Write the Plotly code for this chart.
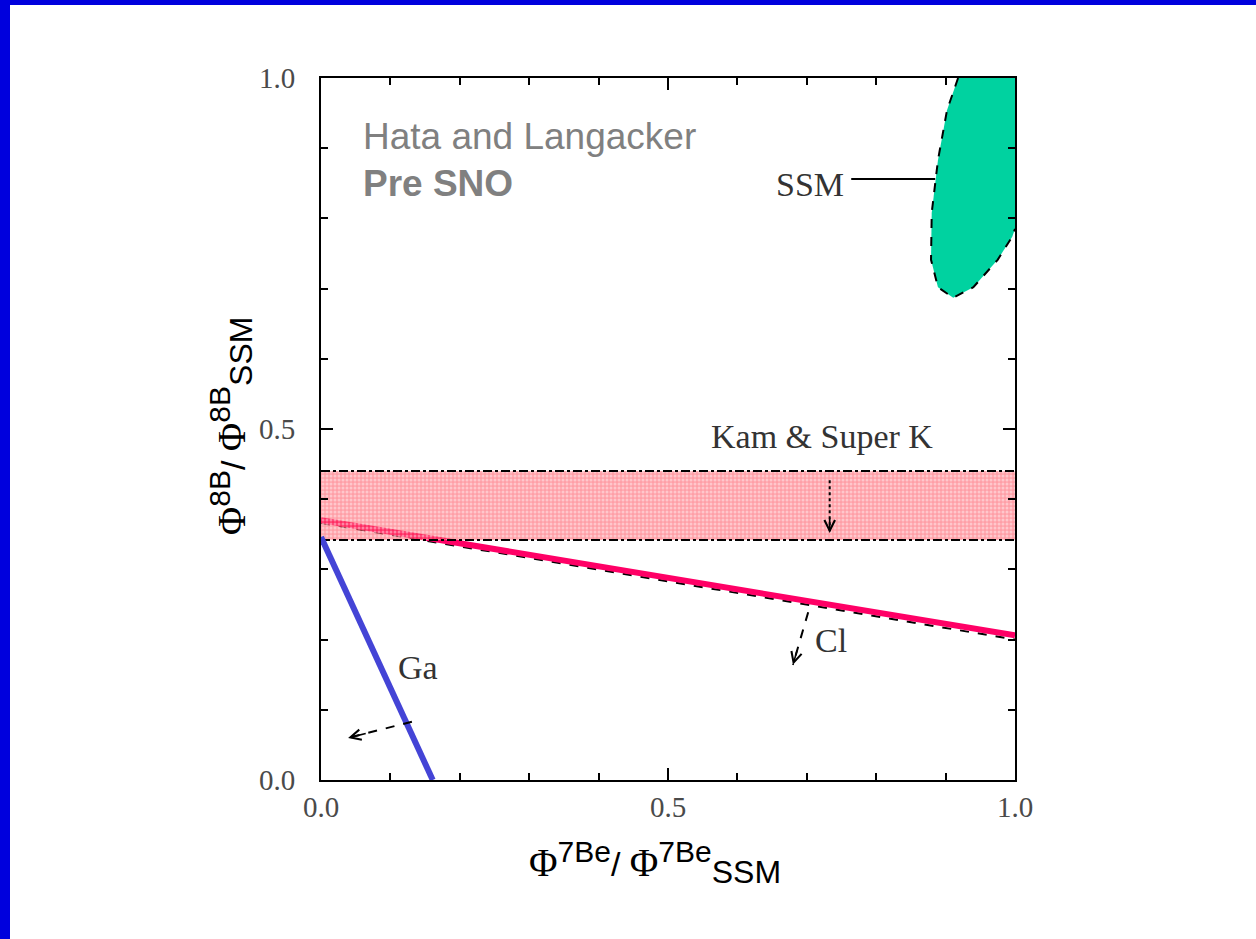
import plotly.graph_objects as go

# ---- data ----
ga_x = [0.0, 0.161]
ga_y = [0.346, 0.0]

cl_x = [0.0, 1.0]
cl_y = [0.370, 0.206]
cl_dash_y = [0.366, 0.200]

kam_x = [0.0, 1.0]
kam_low = [0.342, 0.342]
kam_high = [0.440, 0.440]

ssm_x = [0.918, 0.902, 0.889, 0.880, 0.879, 0.889, 0.911, 0.940, 0.975, 0.996, 1.0, 1.0]
ssm_y = [1.0, 0.954, 0.883, 0.808, 0.741, 0.702, 0.687, 0.702, 0.741, 0.774, 0.785, 1.0]

ssm_ptr_x = [0.764, 0.885]
ssm_ptr_y = [0.856, 0.856]

ga_arrow_x = [0.131, 0.039]
ga_arrow_y = [0.083, 0.060]
cl_arrow_x = [0.702, 0.680]
cl_arrow_y = [0.239, 0.164]
kam_arrow_x = [0.733, 0.733]
kam_arrow_y = [0.427, 0.352]

tick_vals = [0.0, 0.5, 1.0]
tick_text = ["0.0", "0.5", "1.0"]

SERIF = "Liberation Serif, Times New Roman, serif"
SANS = "Liberation Sans, Arial, sans-serif"

fig = go.Figure()

# Cl line (drawn first so the band texture overlays it)
fig.add_trace(go.Scatter(x=cl_x, y=cl_dash_y, mode="lines",
                         line=dict(color="black", width=2, dash="dash"),
                         hoverinfo="skip", showlegend=False))
fig.add_trace(go.Scatter(x=cl_x, y=cl_y, mode="lines",
                         line=dict(color="#ff0066", width=6),
                         hoverinfo="skip", showlegend=False))

# Kam & Super K band
fig.add_trace(go.Scatter(x=kam_x, y=kam_low, mode="lines",
                         line=dict(color="black", width=2, dash="dashdot"),
                         hoverinfo="skip", showlegend=False))
fig.add_trace(go.Scatter(x=kam_x, y=kam_high, mode="lines", fill="tonexty",
                         fillcolor="rgba(255,110,110,0.55)",
                         fillpattern=dict(shape=".", fgcolor="rgba(255,255,255,0.85)",
                                          bgcolor="rgba(255,80,95,0.55)",
                                          size=4, solidity=0.45),
                         line=dict(color="black", width=2, dash="dashdot"),
                         hoverinfo="skip", showlegend=False))

# Ga line
fig.add_trace(go.Scatter(x=ga_x, y=ga_y, mode="lines",
                         line=dict(color="#4444d6", width=6),
                         hoverinfo="skip", showlegend=False))

# SSM region
fig.add_trace(go.Scatter(x=ssm_x, y=ssm_y, mode="lines", fill="toself",
                         fillcolor="#00d2a0", line=dict(width=0),
                         hoverinfo="skip", showlegend=False))
fig.add_trace(go.Scatter(x=ssm_x[:-1], y=ssm_y[:-1], mode="lines",
                         line=dict(color="black", width=2, dash="dash"),
                         hoverinfo="skip", showlegend=False))
fig.add_trace(go.Scatter(x=ssm_ptr_x, y=ssm_ptr_y, mode="lines",
                         line=dict(color="black", width=2),
                         hoverinfo="skip", showlegend=False))

# dashed / dotted arrow shafts with V heads
for ax_, ay_, dash in [(ga_arrow_x, ga_arrow_y, "dash"),
                       (cl_arrow_x, cl_arrow_y, "dash"),
                       (kam_arrow_x, kam_arrow_y, "dot")]:
    fig.add_trace(go.Scatter(x=ax_, y=ay_, mode="lines",
                             line=dict(color="black", width=2, dash=dash),
                             hoverinfo="skip", showlegend=False))
    hx, hy = ax_[-1], ay_[-1]
    tx = hx + 0.3 * (ax_[0] - hx)
    ty = hy + 0.3 * (ay_[0] - hy)
    fig.add_annotation(x=hx, y=hy, ax=tx, ay=ty, axref="x", ayref="y",
                       xref="x", yref="y", text="", showarrow=True,
                       arrowhead=5, arrowsize=1.3, arrowwidth=1.6, arrowcolor="black",
                       standoff=0, startstandoff=0)

# text labels
lab_font = dict(family=SERIF, size=34, color="#333333")
fig.add_annotation(x=0.722, y=0.49, text="Kam &amp; Super K", showarrow=False, font=lab_font)
fig.add_annotation(x=0.705, y=0.848, text="SSM", showarrow=False, font=lab_font)
fig.add_annotation(x=0.140, y=0.160, text="Ga", showarrow=False, font=lab_font)
fig.add_annotation(x=0.735, y=0.199, text="Cl", showarrow=False, font=lab_font)

fig.add_annotation(x=0.057, y=0.917, xanchor="left", text="Hata and Langacker",
                   showarrow=False, font=dict(family=SANS, size=37, color="#808080"))
fig.add_annotation(x=0.057, y=0.85, xanchor="left", text="<b>Pre SNO</b>",
                   showarrow=False, font=dict(family=SANS, size=37, color="#808080"))

phi = '<span style="font-family:Liberation Serif;font-size:39px">Φ</span>'
sup = lambda s: '<sup><span style="font-size:30px">' + s + '</span></sup>'
sub = lambda s: '<sub><span style="font-size:32px">' + s + '</span></sub>'
xtitle = phi + sup('7Be') + '/ ' + phi + sup('7Be') + sub('SSM')
ytitle = phi + sup('8B') + '/ ' + phi + sup('8B') + sub('SSM')
title_font = dict(family=SANS, size=34, color="black")
fig.add_annotation(xref="paper", yref="paper", x=0.481, y=-0.118, text=xtitle,
                   showarrow=False, font=title_font, xanchor="center", yanchor="middle")
fig.add_annotation(xref="paper", yref="paper", x=-0.13, y=0.505, text=ytitle,
                   textangle=-90, showarrow=False, font=title_font,
                   xanchor="center", yanchor="middle")

axis_common = dict(range=[0, 1], tickvals=tick_vals, ticktext=tick_text,
                   ticks="inside", ticklen=12, tickwidth=2, tickcolor="black",
                   minor=dict(dtick=0.1, tick0=0, ticks="inside", ticklen=7,
                              tickwidth=2, tickcolor="black"),
                   showline=True, linewidth=2, linecolor="black", mirror="ticks",
                   showgrid=False, zeroline=False,
                   tickfont=dict(family=SERIF, size=29, color="#4a4a4a"),
                   fixedrange=True)
fig.update_xaxes(**axis_common, ticklabelstandoff=0)
fig.update_yaxes(**axis_common, ticklabelstandoff=18)

# blue slide border (left and top)
fig.add_shape(type="rect", xref="paper", yref="paper",
              x0=-321 / 694, x1=(10 - 321) / 694, y0=-159 / 702, y1=780 / 702,
              fillcolor="#0000dd", line=dict(width=0), layer="above")
fig.add_shape(type="rect", xref="paper", yref="paper",
              x0=-321 / 694, x1=935 / 694, y0=775 / 702, y1=780 / 702,
              fillcolor="#0000dd", line=dict(width=0), layer="above")

fig.update_layout(width=1256, height=939, autosize=False,
                  margin=dict(l=321, r=241, t=78, b=159, pad=0),
                  paper_bgcolor="white", plot_bgcolor="white",
                  showlegend=False)

fig.write_html("out.html", config={"displayModeBar": False},
               post_script="document.body.style.margin='0px';")
